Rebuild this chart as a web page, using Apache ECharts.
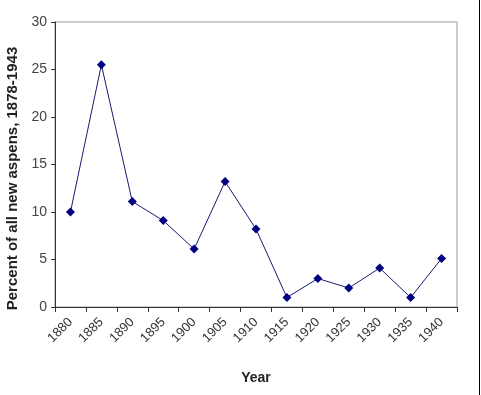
<!DOCTYPE html>
<html>
<head>
<meta charset="utf-8">
<script src="https://cdn.jsdelivr.net/npm/echarts@6/dist/echarts.min.js"></script>
<style>html,body{margin:0;padding:0;background:#fff;}#c{width:481px;height:395px;}</style>
</head>
<body>
<div id="c"></div>
<script>
const years = ['1880','1885','1890','1895','1900','1905','1910','1915','1920','1925','1930','1935','1940'];
const percents = [10, 25.5, 11.1, 9.1, 6.1, 13.2, 8.2, 1, 3, 2, 4.1, 1, 5.1];
const yTicks = { min: 0, max: 30, interval: 5 };

const chart = echarts.init(document.getElementById('c'), null, { renderer: 'canvas' });
chart.setOption({
  animation: false,
  backgroundColor: '#fff',
  textStyle: { fontFamily: 'Liberation Sans, Arial, sans-serif' },
  grid: { left: 55, right: 24, top: 22, bottom: 88, show: true, borderColor: '#999', borderWidth: 1, backgroundColor: 'transparent', containLabel: false, outerBoundsMode: 'none' },
  xAxis: {
    type: 'category',
    data: years,
    boundaryGap: true,
    name: 'Year',
    nameLocation: 'middle',
    nameGap: 64,
    nameTextStyle: { fontWeight: 'bold', fontSize: 14, color: '#222' },
    axisLine: { lineStyle: { color: '#333', width: 1 } },
    axisTick: { show: true, length: 5, inside: false, alignWithLabel: false, lineStyle: { color: '#333' } },
    axisLabel: { rotate: 45, fontSize: 13, color: '#333', margin: 13, interval: 0 },
    splitLine: { show: false }
  },
  yAxis: {
    type: 'value',
    min: yTicks.min, max: yTicks.max, interval: yTicks.interval,
    name: 'Percent of all new aspens, 1878-1943',
    nameLocation: 'middle',
    nameGap: 34,
    nameTextStyle: { fontWeight: 'bold', fontSize: 15, color: '#222', padding: [0, 28, 0, 0] },
    axisLine: { show: true, lineStyle: { color: '#333', width: 1 } },
    axisTick: { show: true, length: 4, lineStyle: { color: '#333' } },
    axisLabel: { fontSize: 14, color: '#444', margin: 8 },
    splitLine: { show: false }
  },
  series: [{
    type: 'line',
    data: percents,
    symbol: 'diamond',
    symbolSize: 9,
    itemStyle: { color: '#000080' },
    lineStyle: { color: '#1a1a70', width: 1 }
  }],
  graphic: [{
    type: 'line',
    shape: { x1: 479.5, y1: 0, x2: 479.5, y2: 395 },
    style: { stroke: '#000', lineWidth: 1 }
  }]
});
</script>
</body>
</html>
